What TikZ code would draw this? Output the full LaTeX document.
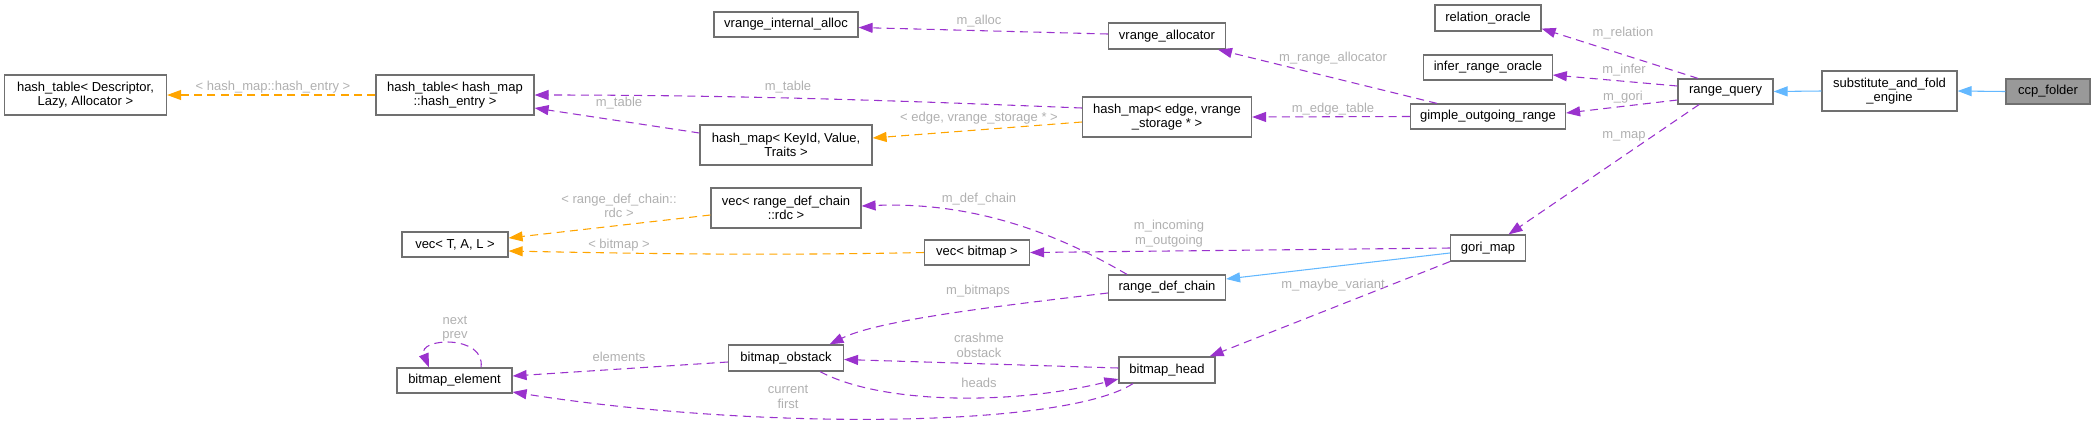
\documentclass[tikz,border=0pt]{standalone}
\usepackage{fontspec}
\setmainfont{Liberation Sans}
\usetikzlibrary{arrows.meta,calc}
\definecolor{purp}{HTML}{9A32CD}
\definecolor{orng}{HTML}{FFA500}
\definecolor{blu}{HTML}{63B8FF}
\definecolor{lblc}{HTML}{B0B0B0}
\definecolor{bord}{HTML}{707070}
\definecolor{fillg}{HTML}{999999}
\begin{document}
\begin{tikzpicture}[x=0.75pt,y=-0.75pt,
  cls/.style 2 args={draw=bord, line width=0.9pt, fill=white, inner sep=0pt, align=center,
     font=\fontsize{9.75}{11}\selectfont, minimum width=#1*0.75pt, minimum height=#2*0.75pt},
  lab/.style={text=lblc, align=center, font=\fontsize{9.75}{11}\selectfont, inner sep=0pt},
  tipa/.style={-{Triangle[length=10.5pt,width=7.5pt]}},
  memb/.style={tipa, draw=purp, line width=0.8pt, dash pattern=on 6pt off 4pt},
  tmpl/.style={tipa, draw=orng, line width=0.8pt, dash pattern=on 6pt off 4pt},
  inh/.style={tipa, draw=blu, line width=0.8pt},
]
\useasboundingbox (0,0) rectangle (2095,426);

% nodes
\node[cls={162}{40}] (htd) at (85.5,95) {hash\_table< Descriptor,\\Lazy, Allocator >};
\node[cls={158}{40}] (hte) at (455,95) {hash\_table< hash\_map\\::hash\_entry >};
\node[cls={144}{25}] (via) at (786,24.5) {vrange\_internal\_alloc};
\node[cls={117}{26}] (va) at (1167,36) {vrange\_allocator};
\node[cls={169}{40}] (hme) at (1167,117) {hash\_map< edge, vrange\\\_storage * >};
\node[cls={172}{40}] (hmk) at (786,145) {hash\_map< KeyId, Value,\\Traits >};
\node[cls={150}{40}] (vrdc) at (786,208) {vec< range\_def\_chain\\::rdc >};
\node[cls={106}{26}] (ro) at (1488,18) {relation\_oracle};
\node[cls={128.5}{25}] (iro) at (1488,67.5) {infer\_range\_oracle};
\node[cls={155}{25}] (gor) at (1488,116.5) {gimple\_outgoing\_range};
\node[cls={95}{25}] (rq) at (1725.5,91.5) {range\_query};
\node[cls={135}{40}] (sfe) at (1889.5,91) {substitute\_and\_fold\\\_engine};
\node[cls={84}{25}, fill=fillg] (ccp) at (2048,91.5) {ccp\_folder};
\node[cls={106}{25}] (vtal) at (455,244.5) {vec< T, A, L >};
\node[cls={115}{25}] (be) at (454.5,380.5) {bitmap\_element};
\node[cls={105}{25}] (vb) at (977,252.5) {vec< bitmap >};
\node[cls={117}{25}] (rdc) at (1167,287.5) {range\_def\_chain};
\node[cls={115}{26}] (bo) at (786,358) {bitmap\_obstack};
\node[cls={96}{26}] (bh) at (1167,370) {bitmap\_head};
\node[cls={75}{26}] (gm) at (1488,248) {gori\_map};

% inheritance
\draw[inh] (ccp.west) -- (sfe.east);
\draw[inh] (sfe.west) -- (rq.east);
\draw[inh] ($(gm.west)+(0,5)$) -- ($(rdc.east)+(0,-8.5)$);

% members
\draw[memb] ($(rq.north)+(-27.5,0)$) -- ($(ro.south east)+(0,-3)$);
\draw[memb] ($(rq.west)+(0,-5.5)$) -- ($(iro.east)+(0,7.5)$);
\draw[memb] ($(rq.west)+(0,8.5)$) -- ($(gor.east)+(0,-3.5)$);
\draw[memb] ($(rq.south)+(-26.5,0)$) -- ($(gm.north)+(20.5,0)$);
\draw[memb] ($(gor.north)+(-51,0)$) -- ($(va.south)+(51,0)$);
\draw[memb] (gor.west) -- (hme.east);
\draw[memb] ($(va.west)+(0,-2)$) -- ($(via.east)+(0,3)$);
\draw[memb] ($(hme.west)+(0,-9)$) .. controls +(-150,-6) and +(220,0) .. (hte.east);
\draw[memb] ($(hmk.west)+(0,-12)$) -- ($(hte.east)+(0,13)$);
\draw[memb] ($(rdc.north)+(-40,0)$) .. controls +(-60,-35) and +(120,-5) .. ($(vrdc.east)+(0,-2)$);
\draw[memb] (gm.west) -- (vb.east);
\draw[memb] (gm.south west) -- ($(bh.north east)+(-6,0)$);
\draw[memb] ($(rdc.west)+(0,5.5)$) .. controls +(-100,12) and +(50,-25) .. ($(bo.north)+(43.5,0)$);
\draw[memb] ($(bh.west)+(0,-2)$) -- ($(bo.east)+(0,1.5)$);
\draw[memb] ($(bo.south)+(34,0)$) .. controls +(60,32) and +(-110,27) .. ($(bh.west)+(0,9)$);
\draw[memb] ($(bh.south)+(-34,0)$) .. controls +(-70,45) and +(240,38) .. ($(be.east)+(0,11.5)$);
\draw[memb] ($(bo.west)+(0,4)$) -- ($(be.east)+(0,-4.5)$);
\draw[memb] ($(be.north)+(26.5,0)$) .. controls +(5,-33) and +(-12,-30) .. ($(be.north)+(-25.5,0)$);

% template instances
\draw[tmpl] (hte.west) -- (htd.east);
\draw[tmpl] ($(hme.west)+(0,5)$) -- ($(hmk.east)+(0,-7)$);
\draw[tmpl] ($(vrdc.west)+(0,7)$) -- ($(vtal.east)+(0,-6.5)$);
\draw[tmpl] (vb.west) .. controls +(-150,3) and +(150,3) .. ($(vtal.east)+(0,6.5)$);

% labels
\node[lab] (l1) at (273,87) {< hash\_map::hash\_entry >};
\node[lab] (l2) at (788,87) {m\_table};
\node[lab] (l3) at (619,103) {m\_table};
\node[lab] (l4) at (979,21) {m\_alloc};
\node[lab] (l5) at (1333,58) {m\_range\_allocator};
\node[lab] (l6) at (1333,109) {m\_edge\_table};
\node[lab] (l7) at (979,118) {< edge, vrange\_storage * >};
\node[lab] (l8) at (979,199) {m\_def\_chain};
\node[lab] (l9) at (619,206) {< range\_def\_chain::\\rdc >};
\node[lab] (l10) at (619,245) {< bitmap >};
\node[lab] (l11) at (1623,33) {m\_relation};
\node[lab] (l12) at (1624,70) {m\_infer};
\node[lab] (l13) at (1623,97) {m\_gori};
\node[lab] (l14) at (1624,136) {m\_map};
\node[lab] (l15) at (1169,233.5) {m\_incoming\\m\_outgoing};
\node[lab] (l16) at (1333,285) {m\_maybe\_variant};
\node[lab] (l17) at (978,291) {m\_bitmaps};
\node[lab] (l18) at (979,345.5) {crashme\\obstack};
\node[lab] (l19) at (979,383) {heads};
\node[lab] (l20) at (788,397) {current\\first};
\node[lab] (l21) at (619,357) {elements};
\node[lab] (l22) at (455,328.5) {next\\prev};
\end{tikzpicture}
\end{document}
